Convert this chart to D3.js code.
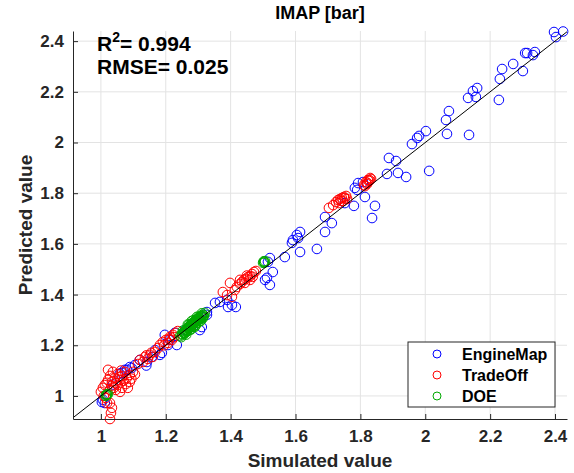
<!DOCTYPE html>
<html>
<head>
<meta charset="utf-8">
<script src="https://cdn.jsdelivr.net/npm/d3@7"></script>
<style>
  body { margin: 0; background: #fff; }
  svg { display: block; }
  text { font-family: "Liberation Sans", Arial, sans-serif; font-weight: bold; fill: #262626; }
</style>
</head>
<body>
<svg width="574" height="473"></svg>
<script>
// tick values, same on both axes
const ticks = [1, 1.2, 1.4, 1.6, 1.8, 2, 2.2, 2.4];

// [simulated, predicted]
const engineMap = [
  [2.397, 2.436], [2.425, 2.438], [2.403, 2.416], [2.308, 2.353], [2.314, 2.353],
  [2.338, 2.357], [2.332, 2.345], [2.271, 2.310], [2.301, 2.282], [2.237, 2.290],
  [2.230, 2.251], [2.160, 2.215], [2.147, 2.203], [2.132, 2.176], [2.156, 2.180],
  [2.227, 2.168], [2.073, 2.124], [2.064, 2.089], [2.067, 2.034], [2.135, 2.030],
  [2.002, 2.045], [1.981, 2.026], [1.975, 2.018], [1.959, 1.994], [1.888, 1.939],
  [1.910, 1.927], [1.882, 1.876], [1.916, 1.880], [1.941, 1.864], [2.012, 1.888],
  [1.793, 1.840], [1.808, 1.844], [1.790, 1.813], [1.783, 1.821], [1.814, 1.785],
  [1.752, 1.761], [1.780, 1.750], [1.845, 1.750], [1.836, 1.702], [1.691, 1.706],
  [1.712, 1.682], [1.691, 1.647], [1.614, 1.647], [1.608, 1.623], [1.589, 1.604],
  [1.592, 1.615], [1.614, 1.568], [1.666, 1.580], [1.567, 1.548], [1.521, 1.544],
  [1.530, 1.489], [1.512, 1.466], [1.521, 1.438], [1.506, 1.458], [1.515, 1.529],
  [1.352, 1.367], [1.367, 1.371], [1.392, 1.351], [1.404, 1.359], [1.389, 1.379],
  [1.327, 1.320], [1.305, 1.260], [1.311, 1.272], [1.197, 1.241], [1.213, 1.221],
  [1.228, 1.249], [1.234, 1.201], [1.207, 1.201], [1.188, 1.170], [1.157, 1.154],
  [1.142, 1.134], [1.105, 1.122], [1.074, 1.103], [1.065, 1.091], [1.003, 0.976],
  [1.012, 0.972], [1.120, 1.142], [1.167, 1.181], [1.259, 1.260], [1.327, 1.331],
  [1.416, 1.351], [1.604, 1.635], [1.182, 1.162], [1.080, 1.103], [1.089, 1.114],
  [1.037, 1.045], [1.058, 1.088], [1.095, 1.110], [1.006, 0.985], [1.140, 1.120]
];

const tradeOff = [
  [1.811, 1.832], [1.817, 1.844], [1.823, 1.852], [1.830, 1.860], [1.820, 1.836],
  [1.827, 1.848], [1.833, 1.856], [1.814, 1.828], [1.822, 1.840], [1.828, 1.852],
  [1.716, 1.753], [1.725, 1.765], [1.731, 1.773], [1.737, 1.777], [1.743, 1.781],
  [1.749, 1.785], [1.756, 1.789], [1.734, 1.761], [1.746, 1.769], [1.759, 1.777],
  [1.703, 1.742], [1.740, 1.770], [1.752, 1.780],
  [1.419, 1.430], [1.429, 1.442], [1.435, 1.450], [1.441, 1.458], [1.447, 1.462],
  [1.453, 1.469], [1.460, 1.473], [1.466, 1.481], [1.472, 1.489], [1.478, 1.493],
  [1.444, 1.446], [1.460, 1.458], [1.429, 1.458], [1.398, 1.446], [1.376, 1.410],
  [1.389, 1.398], [1.404, 1.391], [1.413, 1.418], [1.450, 1.475], [1.468, 1.470],
  [1.182, 1.201], [1.191, 1.213], [1.200, 1.221], [1.213, 1.233], [1.222, 1.241],
  [1.231, 1.249], [1.237, 1.256], [1.207, 1.209], [1.219, 1.221], [1.176, 1.189],
  [1.195, 1.200], [1.226, 1.232], [1.210, 1.225],
  [1.120, 1.142], [1.136, 1.154], [1.151, 1.162], [1.167, 1.174], [1.130, 1.134],
  [1.145, 1.146], [1.160, 1.154], [1.114, 1.126], [1.140, 1.160], [1.155, 1.170],
  [1.012, 1.043], [1.022, 1.063], [1.028, 1.079], [1.034, 1.055], [1.043, 1.071],
  [1.052, 1.087], [1.059, 1.063], [1.065, 1.079], [1.074, 1.095], [1.080, 1.071],
  [1.089, 1.083], [1.028, 1.024], [1.040, 1.032], [1.052, 1.043], [1.065, 1.032],
  [1.077, 1.047], [1.089, 1.055], [1.022, 1.103], [1.037, 1.095], [1.046, 1.024],
  [1.059, 1.016], [1.099, 1.095], [1.083, 1.032], [1.000, 1.016], [1.006, 1.032],
  [1.009, 1.000], [1.015, 0.992], [1.046, 1.050], [1.070, 1.060], [1.058, 1.075],
  [1.032, 1.040], [1.094, 1.068], [1.018, 1.052], [1.062, 1.100], [1.105, 1.085],
  [1.019, 0.972], [1.028, 0.972], [1.034, 0.953], [1.031, 0.933], [1.028, 0.909]
];

const doe = [
  [1.245, 1.238], [1.250, 1.245], [1.255, 1.252], [1.258, 1.250], [1.262, 1.262],
  [1.265, 1.258], [1.268, 1.270], [1.270, 1.265], [1.273, 1.275], [1.276, 1.272],
  [1.279, 1.283], [1.282, 1.280], [1.285, 1.290], [1.288, 1.287], [1.291, 1.296],
  [1.294, 1.293], [1.297, 1.303], [1.300, 1.300], [1.303, 1.308], [1.306, 1.305],
  [1.309, 1.314], [1.312, 1.312], [1.315, 1.320], [1.318, 1.317], [1.260, 1.248],
  [1.275, 1.262], [1.290, 1.280], [1.305, 1.295], [1.300, 1.312], [1.285, 1.298],
  [1.248, 1.232], [1.253, 1.258], [1.263, 1.242], [1.268, 1.282], [1.278, 1.262],
  [1.280, 1.296], [1.292, 1.278], [1.296, 1.312], [1.308, 1.296], [1.311, 1.326],
  [1.320, 1.328], [1.266, 1.255], [1.284, 1.272], [1.298, 1.288], [1.314, 1.306],
  [1.252, 1.240], [1.257, 1.246], [1.261, 1.255], [1.267, 1.263], [1.272, 1.268],
  [1.277, 1.277], [1.283, 1.284], [1.287, 1.292], [1.293, 1.300], [1.299, 1.306],
  [1.304, 1.302], [1.310, 1.318], [1.316, 1.312], [1.271, 1.280], [1.289, 1.272],
  [1.500, 1.525], [1.503, 1.529], [1.506, 1.532], [1.502, 1.531], [1.504, 1.526],
  [1.015, 1.000], [1.019, 1.004], [1.022, 1.008], [1.018, 1.006], [1.016, 1.004]
];

const seriesNames = ["EngineMap", "TradeOff", "DOE"];
const seriesColors = ["#0000ff", "#ff0000", "#00a800"];
const seriesData = [engineMap, tradeOff, doe];

var svg = d3.select("svg");

var x = d3.scaleLinear().domain([0.914, 2.437]).range([73, 567]);
var y = d3.scaleLinear().domain([0.909, 2.44]).range([419, 31]);

// grid
svg.append("g").selectAll("line.gx")
  .data(ticks).enter().append("line")
  .attr("x1", d => x(d)).attr("x2", d => x(d))
  .attr("y1", y.range()[0]).attr("y2", y.range()[1])
  .style("stroke", "#e3e3e3");
svg.append("g").selectAll("line.gy")
  .data(ticks).enter().append("line")
  .attr("y1", d => y(d)).attr("y2", d => y(d))
  .attr("x1", x.range()[0]).attr("x2", x.range()[1])
  .style("stroke", "#e3e3e3");

// points
seriesData.forEach((pts, i) => {
  svg.append("g").selectAll("circle")
    .data(pts).enter().append("circle")
    .attr("cx", d => x(d[0]))
    .attr("cy", d => y(d[1]))
    .attr("r", 4.8)
    .style("fill", "none")
    .style("stroke", seriesColors[i])
    .style("stroke-width", 1);
});

// y = x line
svg.append("line")
  .attr("x1", x(0.914)).attr("y1", y(0.914))
  .attr("x2", x(2.437)).attr("y2", y(2.437))
  .style("stroke", "#000")
  .style("stroke-width", 1);

// axes
var fmt = d => String(+d.toFixed(1));
var xAxis = d3.axisBottom(x).tickValues(ticks).tickFormat(fmt).tickSizeInner(-5).tickSizeOuter(0).tickPadding(11);
var yAxis = d3.axisLeft(y).tickValues(ticks).tickFormat(fmt).tickSizeInner(-5).tickSizeOuter(0).tickPadding(9);

var gx = svg.append("g").attr("transform", "translate(0,419)").call(xAxis);
var gy = svg.append("g").attr("transform", "translate(73,0)").call(yAxis);
[gx, gy].forEach(g => {
  g.select(".domain").style("stroke", "#262626");
  g.selectAll(".tick line").style("stroke", "#262626");
  g.selectAll(".tick text").style("font-size", "17px").style("fill", "#262626")
    .style("font-family", '"Liberation Sans", Arial, sans-serif').style("font-weight", "bold");
});

// labels
svg.append("text")
  .attr("x", 320).attr("y", 19)
  .attr("text-anchor", "middle")
  .style("font-size", "18px")
  .style("fill", "#000")
  .text("IMAP [bar]");

svg.append("text")
  .attr("x", 320).attr("y", 467)
  .attr("text-anchor", "middle")
  .style("font-size", "19px")
  .text("Simulated value");

svg.append("text")
  .attr("transform", "translate(32,225)rotate(-90)")
  .attr("text-anchor", "middle")
  .style("font-size", "19px")
  .text("Predicted value");

var r2 = svg.append("text")
  .attr("x", 97).attr("y", 51)
  .style("font-size", "21px")
  .style("fill", "#000");
r2.append("tspan").text("R");
r2.append("tspan").attr("dy", -9).style("font-size", "14px").text("2");
r2.append("tspan").attr("dy", 9).text("= 0.994");

svg.append("text")
  .attr("x", 97).attr("y", 74)
  .style("font-size", "21px")
  .style("fill", "#000")
  .text("RMSE= 0.025");

// legend
var legend = svg.append("g");
legend.append("rect")
  .attr("x", 408).attr("y", 342)
  .attr("width", 147).attr("height", 65)
  .style("fill", "#fff")
  .style("stroke", "#262626");

seriesNames.forEach((name, i) => {
  var ly = 354 + i * 21;
  legend.append("circle")
    .attr("cx", 437).attr("cy", ly).attr("r", 4)
    .style("fill", "none")
    .style("stroke", seriesColors[i]);
  legend.append("text")
    .attr("x", 462).attr("y", ly + 6)
    .style("font-size", "16px")
    .style("fill", "#000")
    .text(name);
});
</script>
</body>
</html>
